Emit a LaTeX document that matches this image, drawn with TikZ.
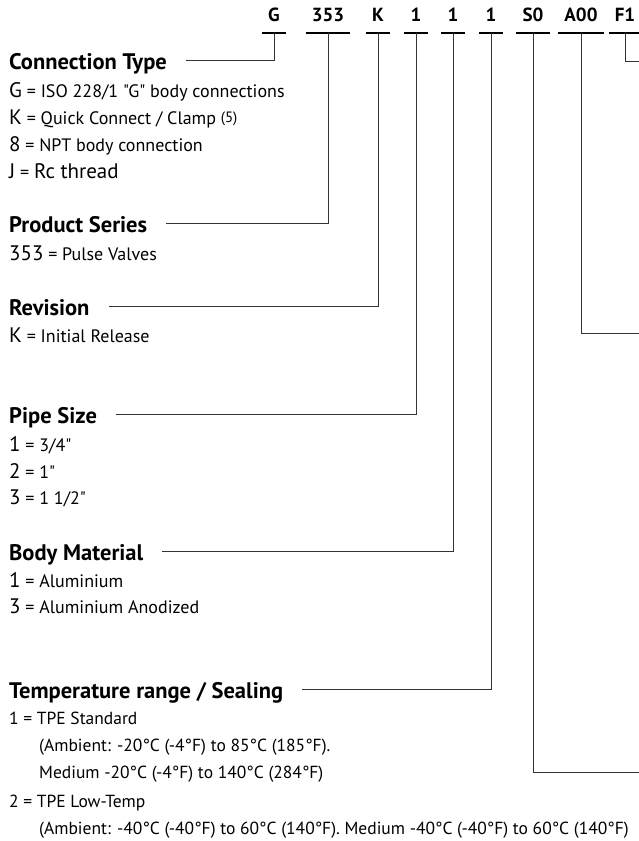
\documentclass[tikz,border=0pt]{standalone}
\usepackage{fontspec}
\setmainfont{PT Sans}[Ligatures=TeXOff]

\newcommand\keych[1]{{\fontsize{21pt}{25pt}\selectfont #1}}
\newcommand\refmark[1]{\raisebox{2pt}{\fontsize{15pt}{17pt}\selectfont #1}}

\begin{document}
\begin{tikzpicture}[x=1pt,y=-1pt,font=\fontsize{18pt}{22pt}\selectfont,text depth=0pt,
  code/.style={font=\fontsize{19pt}{22pt}\selectfont\bfseries,inner xsep=6pt,inner ysep=11.5pt,anchor=base},
  heading/.style={font=\fontsize{22.5pt}{26pt}\selectfont\bfseries,text height=18pt,inner sep=0pt,anchor=base west},
  item/.style={inner sep=0pt,anchor=base west},
  tempitem/.style={item,font=\fontsize{17.5pt}{21pt}\selectfont},
  link/.style={draw=black!80,line width=1pt},
  tolabel/.style={link,shorten >=19pt},
  underline/.style={line width=1.8pt}]
\useasboundingbox (0,0) rectangle (639,841);

% order code
\node[code] (codeG)    at (274,21.5) {G};
\node[code] (code353)  at (328,21.5) {353};
\node[code] (codeK)    at (378,21.5) {K};
\node[code] (codeSize) at (416,21.5) {1};
\node[code] (codeBody) at (453,21.5) {1};
\node[code] (codeTemp) at (491,21.5) {1};
\node[code] (codeS0)   at (533,21.5) {S0};
\node[code] (codeA00)  at (581,21.5) {A00};
\node[code] (codeF1)   at (625,21.5) {F1};

\foreach \c in {codeG,code353,codeK,codeSize,codeBody,codeTemp,codeS0,codeA00,codeF1}
  \draw[underline] (\c.south west) -- (\c.south east);

% headings
\node[heading] (Conn)   at (9, 69) {Connection Type};
\node[heading] (Series) at (9,232) {Product Series};
\node[heading] (Rev)    at (9,315) {Revision};
\node[heading] (Size)   at (9,423) {Pipe Size};
\node[heading] (Body)   at (9,560) {Body Material};
\node[heading] (Temp)   at (9,698) {Temperature range / Sealing};

% entries
\node[item] (conn1)   at ( 9, 97) {\keych{G} = ISO 228/1 "G" body connections};
\node[item] (conn2)   at ( 9,124) {\keych{K} = Quick Connect / Clamp \refmark{(5)}};
\node[item] (conn3)   at ( 9,151) {\keych{8} = NPT body connection};
\node[item] (conn4)   at ( 9,178) {\keych{J} = \keych{Rc thread}};

\node[item] (series1) at ( 9,260) {\keych{353} = Pulse Valves};

\node[item] (rev1)    at ( 9,342) {\keych{K} = Initial Release};

\node[item] (size1)   at ( 9,451) {\keych{1} = 3/4"};
\node[item] (size2)   at ( 9,478) {\keych{2} = 1"};
\node[item] (size3)   at ( 9,504) {\keych{3} = 1 1/2"};

\node[item] (body1)   at ( 9,587) {\keych{1} = Aluminium};
\node[item] (body2)   at ( 9,613) {\keych{3} = Aluminium Anodized};

\node[tempitem] (temp1) at ( 9,724) {1 = TPE Standard};
\node[tempitem] (temp2) at (39,751) {(Ambient: -20°C (-4°F) to 85°C (185°F).};
\node[tempitem] (temp3) at (39,778) {Medium -20°C (-4°F) to 140°C (284°F)};
\node[tempitem] (temp4) at ( 9,807) {2 = TPE Low-Temp};
\node[tempitem] (temp5) at (39,834) {(Ambient: -40°C (-40°F) to 60°C (140°F). Medium -40°C (-40°F) to 60°C (140°F)};

% free ends at the right margin
\coordinate (endF1)  at (639, 61);
\coordinate (endA00) at (639,333);
\coordinate (endS0)  at (639,772);

% leader lines
\draw[tolabel] (codeG)    |- (Conn);
\draw[tolabel] (code353)  |- (Series);
\draw[tolabel] (codeK)    |- (Rev);
\draw[tolabel] (codeSize) |- (Size);
\draw[tolabel] (codeBody) |- (Body);
\draw[tolabel] (codeTemp) |- (Temp);
\draw[link]    (codeS0)   |- (endS0);
\draw[link]    (codeA00)  |- (endA00);
\draw[link]    (codeF1)   |- (endF1);
\end{tikzpicture}
\end{document}
